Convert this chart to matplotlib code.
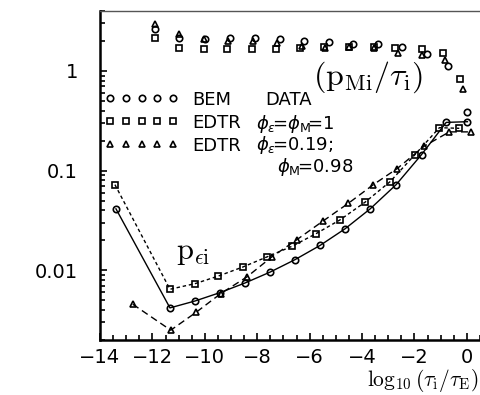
import matplotlib
matplotlib.use("Agg")
import matplotlib.pyplot as plt
from matplotlib.ticker import MultipleLocator, NullFormatter, FixedLocator, LogLocator

plt.rcParams['font.family'] = ['DejaVu Sans']
plt.rcParams['mathtext.fontset'] = 'cm'

# p_Mi / tau_i  (upper group, markers only)
bem_up_x = [-11.9, -11.0, -10.0, -9.05, -8.1, -7.15, -6.2, -5.25, -4.35, -3.4, -2.47, -1.52, -0.72, 0.02]
bem_up = [2.61, 2.15, 2.08, 2.12, 2.15, 2.08, 2.02, 1.96, 1.87, 1.87, 1.74, 1.48, 1.12, 0.39]
edtr1_up_x = [-11.9, -11.0, -10.05, -9.15, -8.2, -7.3, -6.35, -5.45, -4.5, -3.55, -2.74, -1.71, -0.91, -0.26]
edtr1_up = [2.15, 1.71, 1.68, 1.68, 1.68, 1.68, 1.71, 1.74, 1.74, 1.74, 1.69, 1.66, 1.51, 0.83]
edtr2_up_x = [-11.9, -11.0, -10.05, -9.1, -8.15, -7.25, -6.3, -5.4, -4.5, -3.55, -2.63, -1.71, -0.83, -0.14]
edtr2_up = [2.97, 2.33, 2.1, 2.02, 2.0, 1.93, 1.78, 1.72, 1.74, 1.71, 1.51, 1.45, 1.29, 0.66]

# p_eps_i  (lower group, connected)
bem_lo_x = [-13.39, -11.33, -10.37, -9.42, -8.47, -7.51, -6.56, -5.60, -4.65, -3.69, -2.70, -1.73, -0.79, 0.02]
bem_lo = [0.0414, 0.0042, 0.00493, 0.00598, 0.00746, 0.0096, 0.0128, 0.0178, 0.0261, 0.0414, 0.0724, 0.145, 0.305, 0.31]
edtr1_lo_x = [-13.43, -11.33, -10.37, -9.48, -8.55, -7.64, -6.68, -5.76, -4.84, -3.89, -2.93, -1.98, -1.05, -0.29]
edtr1_lo = [0.0724, 0.00646, 0.00736, 0.00877, 0.0108, 0.0136, 0.0174, 0.0233, 0.0321, 0.0482, 0.0776, 0.145, 0.27, 0.266]
edtr2_lo_x = [-12.75, -11.3, -10.34, -9.39, -8.40, -7.45, -6.49, -5.50, -4.52, -3.57, -2.66, -1.63, -0.67, 0.15]
edtr2_lo = [0.00457, 0.00251, 0.00378, 0.00585, 0.00857, 0.0136, 0.0203, 0.0311, 0.0471, 0.0724, 0.105, 0.176, 0.245, 0.245]

xticks = [-14, -12, -10, -8, -6, -4, -2, 0]
yticks = [0.01, 0.1, 1]
ytick_labels = ['0.01', '0.1', '1']

fig = plt.figure(figsize=(4.8, 3.95), dpi=100)
ax = fig.add_axes([0.2083, 0.1392, 0.7917, 0.8330])

mk = dict(color='black', markerfacecolor='none', markeredgewidth=1.2)
h_bem, = ax.plot(bem_up_x, bem_up, 'o', ms=4.6, ls='none', **mk)
h_e1, = ax.plot(edtr1_up_x, edtr1_up, 's', ms=4.2, ls='none', **mk)
h_e2, = ax.plot(edtr2_up_x, edtr2_up, '^', ms=4.6, ls='none', **mk)

ax.plot(bem_lo_x, bem_lo, 'o-', ms=4.6, lw=1.0, **mk)
ax.plot(edtr1_lo_x, edtr1_lo, 's', ms=4.2, ls=(0, (2.5, 2)), lw=1.0, **mk)
ax.plot(edtr2_lo_x, edtr2_lo, '^', ms=4.6, ls=(0, (5, 3)), lw=1.0, **mk)

ax.set_yscale('log')
ax.set_xlim(-14, 0.5)
ax.set_ylim(0.002, 4)

ax.xaxis.set_major_locator(FixedLocator(xticks))
ax.xaxis.set_minor_locator(MultipleLocator(0.5))
ax.yaxis.set_major_locator(FixedLocator(yticks))
ax.set_yticklabels(ytick_labels)
ax.yaxis.set_minor_locator(LogLocator(base=10, subs=range(2, 10)))
ax.yaxis.set_minor_formatter(NullFormatter())

ax.tick_params(which='both', direction='in', labelsize=14, width=1.2)
ax.tick_params(which='major', length=5)
ax.tick_params(which='minor', length=3.5)
ax.tick_params(axis='y', pad=16)
ax.tick_params(axis='x', pad=6)

ax.spines['right'].set_visible(False)
ax.spines['left'].set_linewidth(1.8)
ax.spines['bottom'].set_linewidth(1.8)
ax.spines['top'].set_linewidth(1.0)
ax.spines['top'].set_color('#555555')

leg = ax.legend([h_bem, h_e1, h_e2], ['BEM', 'EDTR', 'EDTR'], numpoints=5,
                loc='upper left', bbox_to_anchor=(0.012, 0.758), frameon=False,
                borderpad=0, borderaxespad=0, handlelength=4.1, handletextpad=0.75,
                labelspacing=0.28, fontsize=13)

ax.text(0.435, 0.728, 'DATA', transform=ax.transAxes, fontsize=13, va='center')
ax.text(0.41, 0.657, r'$\phi_{\epsilon}\!$=$\phi_{\mathrm{M}}\!$=1', transform=ax.transAxes,
        fontsize=13, va='center', math_fontfamily='dejavusans')
ax.text(0.41, 0.592, r'$\phi_{\epsilon}\!$=0.19;', transform=ax.transAxes,
        fontsize=13, va='center', math_fontfamily='dejavusans')
ax.text(0.465, 0.527, r'$\phi_{\mathrm{M}}\!$=0.98', transform=ax.transAxes,
        fontsize=13, va='center', math_fontfamily='dejavusans')

ax.text(0.705, 0.80, r'$(\mathrm{p}_{\mathrm{Mi}}/\tau_{\mathrm{i}})$', transform=ax.transAxes,
        fontsize=23, ha='center', va='center')
ax.text(0.245, 0.265, r'$\mathrm{p}_{\epsilon\mathrm{i}}$', transform=ax.transAxes,
        fontsize=22, ha='center', va='center')

ax.set_xlabel(r'$\log_{10}(\tau_{\mathrm{i}}/\tau_{\mathrm{E}})$', fontsize=15.5, ha='right')
ax.xaxis.set_label_coords(0.995, -0.165)
ax.xaxis.label.set_va('bottom')

fig.savefig('out.png', dpi=100)
